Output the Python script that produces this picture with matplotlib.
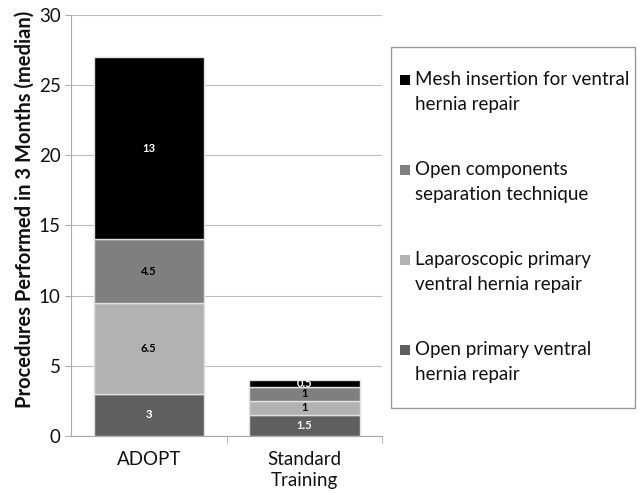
import numpy as np
import matplotlib.pyplot as plt
from matplotlib.patches import Rectangle

# data (medians, bottom segment first)
groups = ['ADOPT', 'Standard\nTraining']
open_primary = [3, 1.5]
laparoscopic = [6.5, 1]
open_components = [4.5, 1]
mesh_insertion = [13, 0.5]

series = [
    (['Open primary ventral', 'hernia repair'], open_primary, '#5f5f5f', 'white'),
    (['Laparoscopic primary', 'ventral hernia repair'], laparoscopic, '#b2b2b2', 'black'),
    (['Open components', 'separation technique'], open_components, '#7f7f7f', 'black'),
    (['Mesh insertion for ventral', 'hernia repair'], mesh_insertion, '#000000', 'white'),
]

plt.rcParams['font.family'] = ['Lato', 'DejaVu Sans']

W, H = 640, 493
fig = plt.figure(figsize=(6.4, 4.93), dpi=100)
ax = fig.add_axes([0.111, 0.1166, 0.486, 0.852])

x = np.arange(len(groups))
bottom = np.zeros(len(groups))
for label, vals, color, txtcolor in series:
    bars = ax.bar(x, vals, 0.71, bottom=bottom, color=color,
                  edgecolor='#e0e0e0', linewidth=1, zorder=3)
    for b, v, y0 in zip(bars, vals, bottom):
        ax.text(b.get_x() + b.get_width() / 2, y0 + v / 2, f'{v:g}',
                ha='center', va='center', fontsize=8, fontweight='bold',
                color=txtcolor, zorder=4)
    bottom += np.array(vals)

ax.set_xlim(-0.5, 1.5)
ax.set_ylim(0, 30)
ax.set_yticks(range(0, 31, 5))
ax.set_xticks(x)
ax.set_xticklabels(groups, fontsize=13.5, color='#111111', linespacing=1.3)
ax.tick_params(axis='y', labelsize=13.5, labelcolor='#111111', length=4,
               width=0.8, color='#aaaaaa')
ax.tick_params(axis='x', length=0, pad=11)
# category separators on the x axis
ax.set_xticks([0.5, 1.5], minor=True)
ax.tick_params(axis='x', which='minor', length=5, color='#aaaaaa')
ax.grid(axis='y', color='#bdbdbd', linewidth=0.8, zorder=0)
for s in ['top', 'right']:
    ax.spines[s].set_visible(False)
for s in ['left', 'bottom']:
    ax.spines[s].set_color('#aaaaaa')

fig.text(25 / W, 1 - 209 / H, 'Procedures Performed in 3 Months (median)',
         rotation=90, ha='center', va='center', fontsize=14.5,
         fontweight='bold', color='#111111')

# legend box drawn by hand so the markers sit on the first line
fig.add_artist(Rectangle((391 / W, 1 - 408 / H), 244 / W, 361 / H,
                         transform=fig.transFigure, facecolor='white',
                         edgecolor='#999999', linewidth=1))
for i, (lines, vals, color, _) in enumerate(series[::-1]):
    base = 85 + 90 * i
    fig.add_artist(Rectangle((400 / W, 1 - base / H), 10 / W, 10 / H,
                             transform=fig.transFigure, facecolor=color,
                             edgecolor='none'))
    for j, line in enumerate(lines):
        fig.text(415 / W, 1 - (base + 25 * j) / H, line, ha='left',
                 va='baseline', fontsize=13.5, color='#111111')

fig.savefig('out.png', dpi=100)
